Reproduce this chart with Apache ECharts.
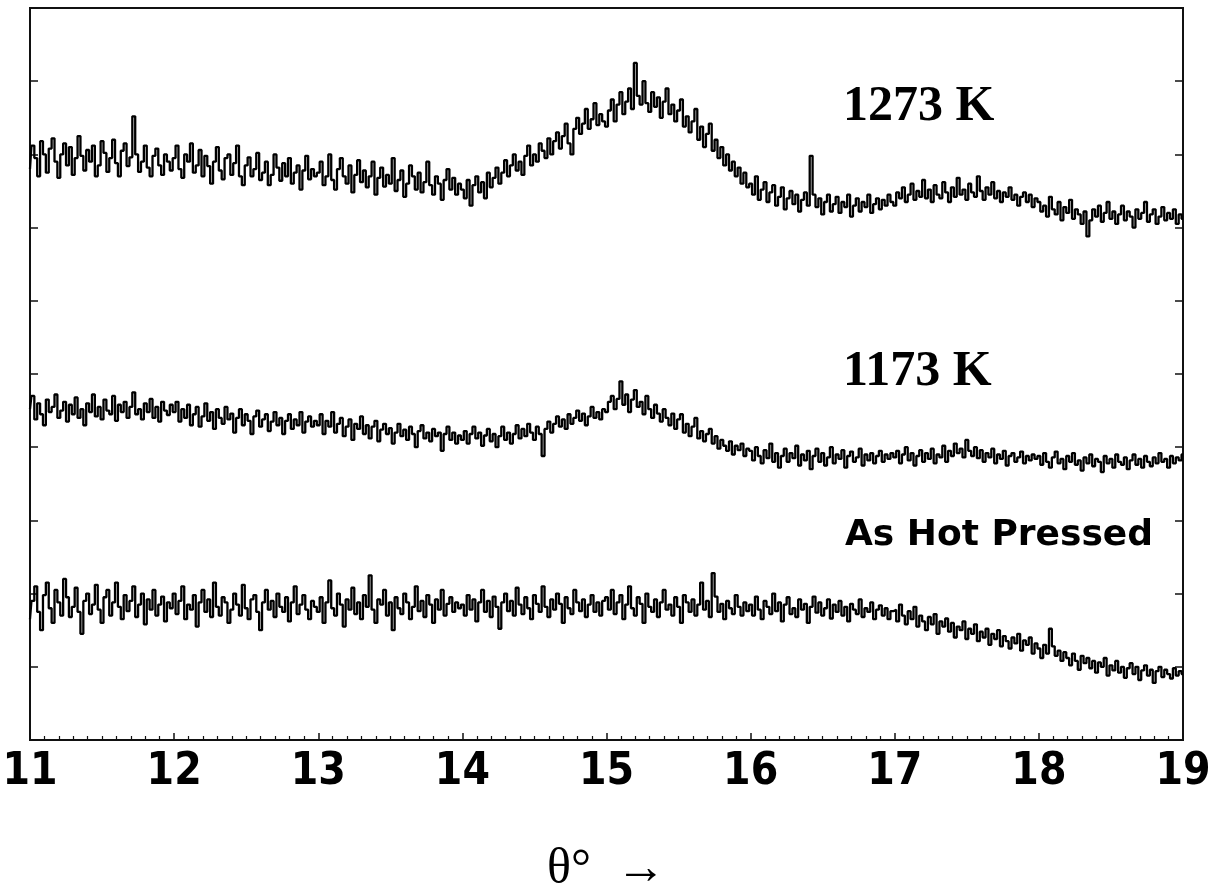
<!DOCTYPE html>
<html>
<head>
<meta charset="utf-8">
<title>XRD</title>
<script src="https://cdn.jsdelivr.net/npm/echarts@6/dist/echarts.min.js"></script>
<style>
    html,body{margin:0;padding:0;background:#fff;}
    #xrd{width:1215px;height:887px;}
</style>
</head>
<body>
<div id="xrd"></div>
<script>
"use strict";
/*扫描角度: 11 ~ 19, 每步 0.02*/
let thetaStart = 11;
let thetaStep = 0.02;
let xTicks = [11,12,13,14,15,16,17,18,19];
let names = ['1273 K','1173 K','As Hot Pressed'];

/*1273 K*/
let s1273 = [
    780,812,795,770,818,800,775,808,822,790,768,800,815,785,810,772,795,825,798,778,806,790,812,770,785,818,802,776,795,820,788,770,805,815,784,796,852,800,776,790,812,782,770,798,808,785,772,800,790,778,
    795,812,780,768,800,790,815,775,785,806,770,798,784,760,790,810,778,766,795,800,772,788,812,770,758,785,796,770,780,802,765,775,790,758,772,800,782,764,788,770,795,760,775,785,752,778,798,766,780,770,
    775,790,758,770,800,765,752,780,795,770,760,785,748,772,792,762,778,755,770,790,745,768,782,756,772,760,795,750,765,778,742,760,785,770,752,775,748,762,790,758,745,770,760,738,765,780,752,768,745,760,
    752,740,765,730,758,770,748,762,740,775,755,768,782,760,775,792,770,785,800,778,790,772,798,812,785,800,790,815,805,795,822,800,818,830,808,825,842,815,800,835,850,828,842,862,835,848,870,840,855,845,
    838,860,875,845,868,885,855,872,890,862,925,880,868,900,870,858,885,865,878,850,872,890,855,868,845,860,875,838,852,830,845,862,820,838,810,828,842,805,820,795,810,785,800,778,790,770,782,760,775,755,
    760,745,770,738,752,762,735,748,758,730,742,755,725,740,750,732,745,722,738,748,730,798,745,728,740,718,735,745,722,732,742,720,735,728,745,715,730,740,722,735,728,745,720,732,740,725,738,730,745,735,
    730,748,740,755,735,745,760,738,750,742,765,740,752,735,758,745,740,762,748,735,755,742,768,745,752,738,760,748,742,770,750,738,755,745,762,740,750,735,748,742,755,738,745,730,742,748,735,745,728,740,
    735,722,730,715,742,725,718,735,710,728,720,738,712,725,718,705,722,688,710,725,715,730,708,720,735,712,722,705,718,730,710,722,715,700,725,712,720,735,708,718,725,705,715,728,710,720,712,725,705,718,712
];
/*1173 K*/
let s1173 = [
    452,470,438,460,445,430,465,448,455,472,440,450,462,435,458,445,468,440,452,430,460,448,472,442,455,438,465,450,445,470,436,458,448,462,440,455,475,445,452,438,460,448,466,440,455,435,462,450,444,458,
    448,462,435,452,440,458,430,445,455,428,442,460,436,448,425,452,440,432,455,438,446,420,440,452,430,445,436,418,442,450,428,438,445,422,435,448,430,440,418,436,445,425,438,430,448,420,435,442,428,436,
    430,445,418,436,428,448,420,432,440,415,428,438,410,432,425,442,418,430,412,428,436,408,424,432,418,426,405,420,432,415,424,410,428,418,400,422,430,412,420,408,425,415,420,395,418,428,410,420,405,416,
    410,422,405,418,428,412,420,402,416,425,408,418,400,415,428,410,420,405,418,430,412,425,415,432,420,410,428,418,388,425,435,420,432,442,428,438,425,445,432,440,450,436,446,430,442,455,440,448,438,452,
    448,462,470,452,466,490,458,472,448,465,478,455,462,445,470,452,440,458,446,435,452,440,430,446,425,438,445,420,432,415,428,440,412,422,408,418,425,405,415,398,410,402,395,408,390,402,396,405,388,398,
    395,382,400,388,378,396,385,405,380,392,372,388,398,380,392,385,402,375,390,382,395,370,388,398,380,392,375,386,400,378,390,384,396,372,388,394,380,386,398,375,390,382,392,378,388,395,380,390,384,392,
    386,395,378,390,400,382,392,375,388,396,380,392,384,398,378,390,386,402,380,395,388,405,392,398,386,410,395,388,400,385,396,380,392,386,398,378,390,384,395,375,388,392,380,386,394,378,388,382,390,384,
    388,376,392,380,372,386,394,378,384,370,388,380,392,376,382,368,386,378,390,374,384,380,366,388,378,384,372,390,380,376,386,370,382,390,376,384,372,388,380,374,386,378,392,380,384,372,388,378,386,382,390
];
/*As Hot Pressed*/
let sHotPressed = [
    165,190,210,175,150,198,215,180,160,205,188,170,220,195,168,182,208,175,145,190,200,172,185,212,178,160,195,205,170,188,215,182,165,198,176,190,210,168,185,200,158,192,178,205,170,185,196,162,188,180,
    200,172,190,210,165,185,178,198,155,188,205,175,192,168,215,182,170,195,188,160,178,200,185,170,212,180,165,192,198,175,150,188,205,178,190,168,200,182,175,195,162,188,210,172,185,198,178,165,190,182,
    175,195,160,188,218,180,170,200,185,155,192,178,208,172,188,165,198,182,225,178,160,192,185,205,170,188,150,195,180,172,200,188,165,182,210,176,190,168,198,185,160,192,178,205,170,186,195,175,188,180,
    185,170,198,178,192,162,188,205,175,190,168,196,182,152,188,200,176,190,170,208,185,172,195,180,165,198,186,175,210,182,168,192,178,200,186,160,195,180,172,205,188,176,192,168,185,198,175,188,170,190,
    195,178,205,172,188,198,165,185,210,180,170,195,186,160,200,182,175,192,168,188,205,178,185,170,195,182,160,198,188,175,192,170,185,215,178,190,168,228,196,175,186,165,190,180,172,198,182,170,188,176,
    185,170,196,178,165,190,182,172,200,176,188,162,185,195,172,180,168,192,178,186,160,182,196,174,188,170,180,192,166,185,175,190,170,182,162,186,178,172,192,168,180,175,188,165,178,184,170,180,165,176,
    178,162,185,170,158,176,165,182,155,170,162,150,168,158,172,145,162,155,166,148,160,140,155,150,162,138,152,145,158,135,148,140,152,130,145,138,150,128,142,135,125,140,132,145,122,136,130,140,118,132,
    125,112,130,118,152,128,115,122,108,120,112,102,118,108,96,115,105,112,98,108,92,106,100,112,88,102,95,108,92,100,85,98,105,90,100,82,95,102,88,96,78,94,100,86,96,90,84,98,88,94,90
];

/*配成 [theta, 强度]*/
function pairs(arr){
    return arr.map((v,i)=>[+(thetaStart + i*thetaStep).toFixed(3), v]);
}

function traceSeries(name,arr){
    return {
        type:"line",
        name:name,
        step:"middle",
        showSymbol:false,
        lineStyle:{color:"#000",width:2.3},
        data:pairs(arr)
    };
}

let chart = echarts.init(document.getElementById("xrd"));
let yAxisBase = {
    type:"value",
    min:0,
    max:1000,
    interval:100,
    axisLine:{show:true,lineStyle:{color:"#111",width:2}},
    axisTick:{show:true,inside:true,length:8,lineStyle:{color:"#111",width:1.5}},
    axisLabel:{show:false},
    splitLine:{show:false}
};
let option = {
    animation:false,
    backgroundColor:"#fff",
    grid:{
        left:30,
        right:32,
        top:8,
        bottom:147,
        outerBoundsMode:"none",
        show:true,
        borderColor:"#111",
        borderWidth:2
    },
    xAxis:{
        type:"value",
        min:xTicks[0],
        max:xTicks[xTicks.length-1],
        interval:1,
        name:"θ°  →",
        nameLocation:"middle",
        nameGap:105,
        nameTextStyle:{
            fontFamily:"Liberation Serif",
            fontSize:50,
            color:"#000"
        },
        axisLine:{lineStyle:{color:"#111",width:2}},
        axisTick:{inside:true,length:7,lineStyle:{color:"#111",width:1.5}},
        minorTick:{show:true,splitNumber:10,length:4,lineStyle:{color:"#111",width:1.2}},
        splitLine:{show:false},
        axisLabel:{
            margin:11,
            fontFamily:"'DejaVu Sans Condensed',sans-serif",
            fontWeight:"bold",
            fontSize:44,
            color:"#000"
        }
    },
    yAxis:[
        Object.assign({position:"left"},yAxisBase),
        Object.assign({position:"right"},yAxisBase)
    ],
    series:[
        traceSeries(names[0],s1273),
        traceSeries(names[1],s1173),
        traceSeries(names[2],sHotPressed)
    ],
    graphic:[
        {
            type:"text",
            left:843,
            top:82,
            style:{text:names[0],font:"bold 50px 'Liberation Serif'",fill:"#000"}
        },
        {
            type:"text",
            left:843,
            top:347,
            style:{text:names[1],font:"bold 50px 'Liberation Serif'",fill:"#000"}
        },
        {
            type:"text",
            left:845,
            top:518,
            style:{text:names[2],font:"bold 36px 'DejaVu Sans'",fill:"#000"}
        }
    ]
};
chart.setOption(option);
</script>
</body>
</html>
